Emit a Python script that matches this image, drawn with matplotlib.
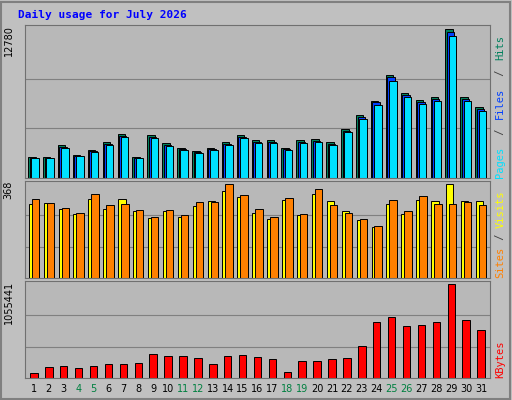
import matplotlib
matplotlib.use("Agg")
import matplotlib.pyplot as plt
from matplotlib.patches import Rectangle

days = list(range(1, 32))
weekend = [4, 5, 11, 12, 18, 19, 25, 26]
hits = [1840,1840,2800,2000,2450,3060,3760,1840,3670,2970,2620,2360,2620,3060,3670,3240,
        3240,2620,3240,3320,3060,4200,5420,6650,8840,7350,6740,7000,12780,7000,6120]
files = [1760,1760,2700,1920,2350,2950,3650,1760,3550,2870,2520,2270,2520,2950,3550,3130,
         3130,2520,3130,3220,2960,4080,5280,6500,8650,7180,6580,6830,12550,6830,5960]
pages = [1700,1700,2600,1850,2260,2850,3500,1700,3400,2760,2430,2190,2430,2850,3420,3020,
         3020,2430,3020,3100,2850,3930,5100,6280,8360,6950,6360,6600,12200,6600,5770]
visits = [290,294,270,250,310,270,307,262,235,260,240,280,300,340,315,255,
          230,305,245,330,300,262,225,200,290,250,305,300,368,300,300]
sites = [307,294,274,254,327,286,290,266,237,266,245,298,298,368,323,270,
         237,311,249,348,286,254,229,204,303,262,319,290,290,298,286]
kbytes = [57000,125000,136000,113000,136000,159000,159000,170000,272000,250000,250000,227000,
          159000,250000,261000,238000,216000,68000,193000,193000,216000,227000,363000,624000,
          681000,579000,590000,624000,1055441,647000,533000]

W, H = 512, 400
fig = plt.figure(figsize=(5.12, 4.0), dpi=100)
fig.patch.set_facecolor("#C0C0C0")
fig.add_artist(Rectangle((0.002, 0.002), 0.994, 0.994, transform=fig.transFigure,
                         fill=False, edgecolor="#808080", lw=1.5))
fig.text(18/W, 1-15/H, "Daily usage for July 2026", color="#0000FF", fontsize=8,
         fontweight="bold", family="DejaVu Sans Mono", va="center")

def mkax(top, bot):
    ax = fig.add_axes([25/W, 1-bot/H, 465/W, (bot-top)/H])
    ax.set_facecolor("#B8B8B8")
    ax.set_xlim(0.4, 31.6)
    ax.set_xticks([]); ax.set_yticks([])
    for s in ax.spines.values():
        s.set_color("#707070")
    return ax

def panel(ax, series, colors, offs, mx, label):
    ax.set_ylim(0, mx*1.03)
    for f in (1/3, 2/3):
        ax.axhline(mx*f, color="#808080", lw=0.8, zorder=0)
    for vals, c, o in zip(series, colors, offs):
        ax.bar([d+o for d in days], vals, width=0.5, color=c, edgecolor="black", lw=0.7, zorder=2)
    ax.text(-0.035, 1.0, label, transform=ax.transAxes, rotation=90, fontsize=7,
            ha="center", va="top")

ax1 = mkax(25, 178)
panel(ax1, [hits, files, pages], ["#00805C", "#0040FF", "#00E0FF"], [-0.14, -0.04, 0.08], 12780, "12780")
ax2 = mkax(181, 278)
panel(ax2, [visits, sites], ["#FFFF00", "#FF8000"], [-0.1, 0.1], 368, "368")
ax3 = mkax(281, 378)
panel(ax3, [kbytes], ["#FF0000"], [0.0], 1055441, "1055441")

def side(ax, parts, hpx, step):
    y = 0.0
    for t, c in parts:
        ax.text(1.022, y, t, transform=ax.transAxes, rotation=90, color=c, fontsize=7.5,
                family="DejaVu Sans Mono", va="bottom", ha="center")
        y += len(t) * step / hpx

side(ax1, [("Pages", "#00E0FF"), (" / ", "#404040"), ("Files", "#0040FF"), (" / ", "#404040"), ("Hits", "#00805C")], 153, 7.4)
side(ax2, [("Sites", "#FF8000"), (" / ", "#404040"), ("Visits", "#FFFF00")], 97, 6.3)
side(ax3, [("KBytes", "#FF0000")], 97, 6.3)

for d in days:
    fig.text((25 + (d-0.4)/31.2*465)/W, 1-389/H, str(d), ha="center", va="center",
             fontsize=7, color="#008040" if d in weekend else "black")

fig.savefig("out.png", dpi=100, facecolor=fig.get_facecolor())
